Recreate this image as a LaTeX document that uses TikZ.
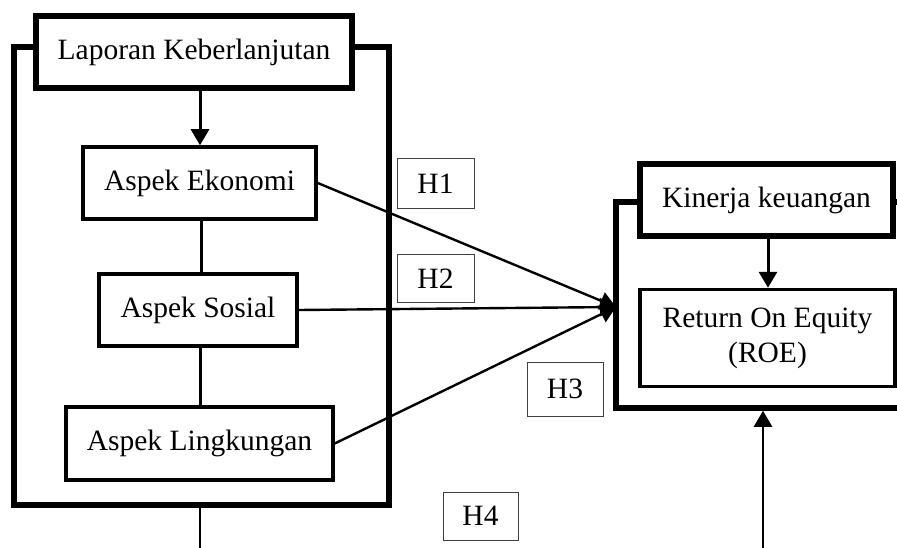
\documentclass[tikz,border=0pt]{standalone}
\usepackage{fontspec}
\setmainfont{Liberation Serif}
\usetikzlibrary{arrows.meta, positioning, shapes}
\tikzset{
        x=1pt, y=-1pt, % pixel grid, y downwards
        >={Triangle[length=16pt,width=18pt]}, % makes the arrow heads bold
        every node/.style={font=\fontsize{29.5}{34}\selectfont, inner sep=0pt},
        link/.style={line width=3pt}, % edges between boxes
        path/.style={line width=2.4pt}, % hypothesis lines
    }
\tikzstyle{frame}=[draw,line width=5.5pt]
\tikzstyle{headbox}=[draw,fill=white,line width=5.5pt]
\tikzstyle{aspect}=[draw,fill=white,line width=3.5pt]
\tikzstyle{hypo}=[draw=black!75,line width=1pt]

\begin{document}
\begin{tikzpicture}
    \clip (0,0) rectangle (897,548);
    \fill[white] (0,0) rectangle (897,548);

    % sustainability report
    \node[frame, minimum width=375, minimum height=458] (lapframe) at (201.5,276) {};
    \node[headbox, minimum width=316, minimum height=72] (lap) at (194,52) {Laporan Keberlanjutan};
    \node[aspect, minimum width=233, minimum height=72] (eko) at (199.5,183) {Aspek Ekonomi};
    \node[aspect, minimum width=198, minimum height=72] (sos) at (198,310) {Aspek Sosial};
    \node[aspect, minimum width=267, minimum height=73] (ling) at (199.5,443.5) {Aspek Lingkungan};

    % financial performance
    \node[frame, minimum width=289, minimum height=206] (kinframe) at (760.5,305) {};
    \node[headbox, minimum width=253, minimum height=72] (kin) at (766.5,200) {Kinerja keuangan};
    \node[aspect, minimum width=255, minimum height=97, align=center] (roe) at (767.5,338)
        {Return On Equity\\[1pt](ROE)};

    % hypotheses
    \node[hypo, minimum width=77, minimum height=50] (h1) at (435.5,184) {H1};
    \node[hypo, minimum width=77, minimum height=47] (h2) at (435.5,278.5) {H2};
    \node[hypo, minimum width=76, minimum height=54] (h3) at (565,389) {H3};
    \node[hypo, minimum width=75, minimum height=48] (h4) at (480.5,516) {H4};

    \coordinate (hit) at (616,307);
    \coordinate (lapfoot) at (200,560);
    \coordinate (kinfoot) at (763,560);

    \draw[link,->] (lap.south -| 200,0) -- (eko.north -| 200,0);
    \draw[link,-] (eko.south -| 201,0) -- (sos.north -| 201,0);
    \draw[link,-] (sos.south -| 200,0) -- (ling.north -| 200,0);
    \draw[link,->] (kin.south -| 768,0) -- (roe.north -| 768,0);

    \draw[path,->] (eko.east |- 0,183) -- (hit);
    \draw[path,->] (sos.east) -- (hit);
    \draw[path,->] (ling.east) -- (hit);

    \draw[path,-] (lapframe.south -| lapfoot) -- (lapfoot);
    \draw[path,->] (kinfoot) -- (kinframe.south -| kinfoot);
\end{tikzpicture}
\end{document}
